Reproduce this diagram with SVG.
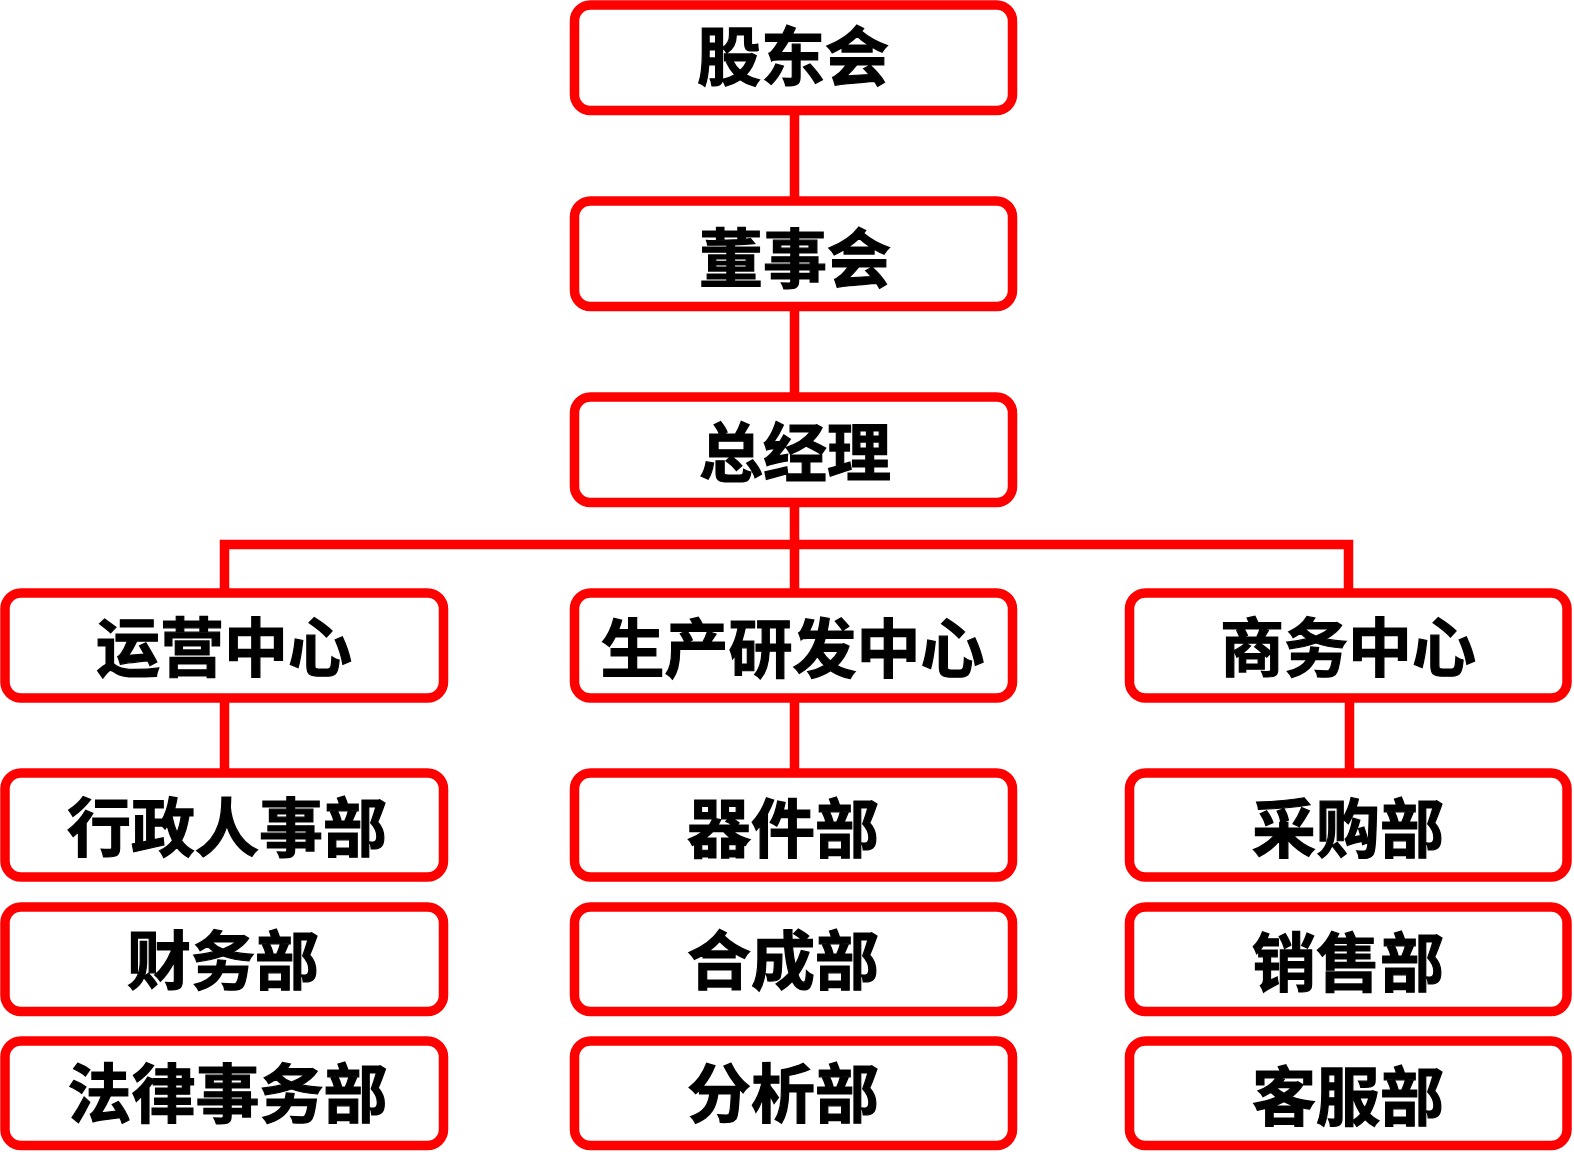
<svg xmlns="http://www.w3.org/2000/svg" width="1574" height="1170" viewBox="0 0 1574 1170">
<style>
.box{fill:#fff;stroke:#ff0000;stroke-width:9.5}
.lbl{font-family:"Noto Sans CJK SC","Noto Sans CJK JP",sans-serif;font-weight:700;font-size:64px;fill:#000;stroke:#000;stroke-width:1.2;text-anchor:middle}
.con{fill:none;stroke:#ff0000;stroke-width:9.5;stroke-linejoin:miter;stroke-linecap:butt}
</style>
<rect width="1574" height="1170" fill="#fff"/>
<g id="connectors">
<path class="con" d="M794.5,110 V201"/>
<path class="con" d="M794.5,306 V397"/>
<path class="con" d="M794.5,502 V593"/>
<path class="con" d="M224.5,593 V544.5 H1348.5 V593"/>
<path class="con" d="M224.5,698 V773"/>
<path class="con" d="M794.5,698 V773"/>
<path class="con" d="M1349.5,698 V773"/>
</g>
<g id="n_gudonghui"><rect class="box" x="574.5" y="5" width="438" height="105.5" rx="16"/><text class="lbl" x="793" y="79.5">股东会</text></g>
<g id="n_dongshihui"><rect class="box" x="574.5" y="201" width="438" height="105.5" rx="16"/><text class="lbl" x="795" y="281.5">董事会</text></g>
<g id="n_zongjingli"><rect class="box" x="574.5" y="397" width="438" height="105.5" rx="16"/><text class="lbl" x="795" y="475.5">总经理</text></g>
<g id="n_yunying"><rect class="box" x="5" y="593" width="438.5" height="105" rx="16"/><text class="lbl" x="224" y="671">运营中心</text></g>
<g id="n_shengchan"><rect class="box" x="574.5" y="593" width="438" height="105" rx="16"/><text class="lbl" x="792.5" y="671.5">生产研发中心</text></g>
<g id="n_shangwu"><rect class="box" x="1129.5" y="593" width="437.5" height="105" rx="16"/><text class="lbl" x="1348" y="671">商务中心</text></g>
<g id="n_xingzheng"><rect class="box" x="5" y="773" width="438.5" height="104" rx="16"/><text class="lbl" x="227" y="851">行政人事部</text></g>
<g id="n_caiwu"><rect class="box" x="5" y="907" width="438.5" height="104.5" rx="16"/><text class="lbl" x="223" y="984">财务部</text></g>
<g id="n_falv"><rect class="box" x="5" y="1041" width="438.5" height="104.5" rx="16"/><text class="lbl" x="227.5" y="1117">法律事务部</text></g>
<g id="n_qijian"><rect class="box" x="574.5" y="773" width="438" height="104" rx="16"/><text class="lbl" x="783" y="851.5">器件部</text></g>
<g id="n_hecheng"><rect class="box" x="574.5" y="907" width="438" height="104.5" rx="16"/><text class="lbl" x="783" y="984">合成部</text></g>
<g id="n_fenxi"><rect class="box" x="574.5" y="1041" width="438" height="104.5" rx="16"/><text class="lbl" x="783" y="1117">分析部</text></g>
<g id="n_caigou"><rect class="box" x="1129.5" y="773" width="437.5" height="104" rx="16"/><text class="lbl" x="1348" y="851.5">采购部</text></g>
<g id="n_xiaoshou"><rect class="box" x="1129.5" y="907" width="437.5" height="104.5" rx="16"/><text class="lbl" x="1348" y="986">销售部</text></g>
<g id="n_kefu"><rect class="box" x="1129.5" y="1041" width="437.5" height="104.5" rx="16"/><text class="lbl" x="1348" y="1120">客服部</text></g>
</svg>
